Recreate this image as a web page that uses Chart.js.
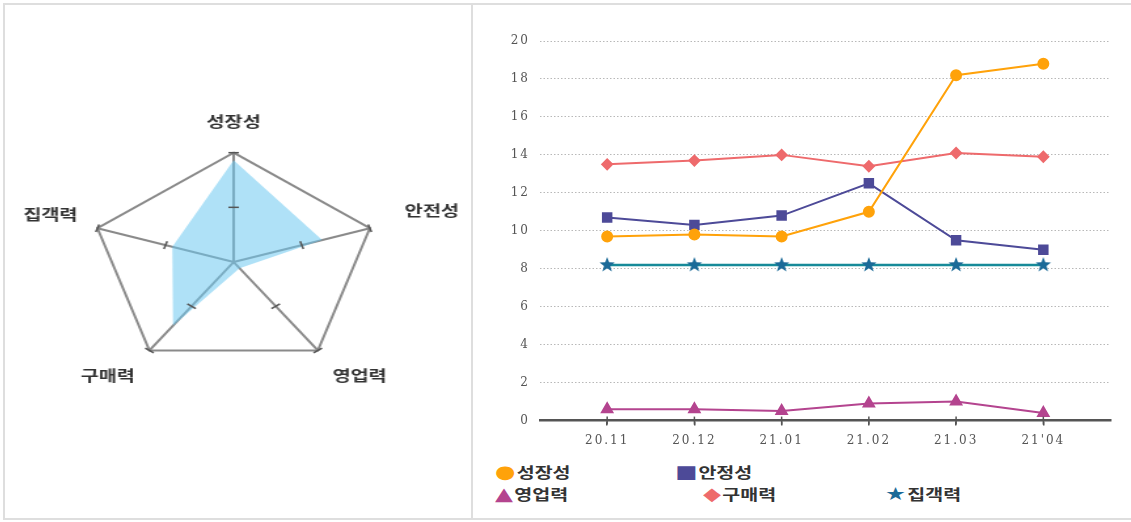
<!DOCTYPE html>
<html lang="ko">
<head>
<meta charset="utf-8">
<script src="https://cdn.jsdelivr.net/npm/chart.js@4.4.1/dist/chart.umd.min.js"></script>
<style>
body{margin:0;background:#fff;width:1131px;height:522px;overflow:hidden;position:relative;font-family:"Noto Sans CJK KR",sans-serif}
.frame{position:absolute;left:3px;top:3px;width:1130px;height:517px;border:2px solid #dedede;border-right:none;box-sizing:border-box}
.divider{position:absolute;left:471px;top:3px;width:2px;height:517px;background:#dedede}
#radarBox{position:absolute;left:7px;top:8px;width:351px;height:505px;transform:scaleX(1.31);transform-origin:0 0}
#lineBox{position:absolute;left:476px;top:0;width:644px;height:456px}
#legend .item{position:absolute;font-weight:bold;font-size:15px;color:#333;white-space:nowrap;line-height:20px;transform:scaleX(1.3);transform-origin:0 50%}
#legend .sym{font-family:"DejaVu Sans";font-size:18px;margin-right:1px}
#legend .item:nth-child(1){left:495px;top:462px}
#legend .item:nth-child(2){left:675px;top:462px}
#legend .item:nth-child(3){left:495px;top:484px}
#legend .item:nth-child(4){left:703px;top:484px}
#legend .item:nth-child(5){left:885px;top:484px}
</style>
</head>
<body>
<div class="frame"></div>
<div class="divider"></div>
<div id="radarBox"><canvas id="radarChart"></canvas></div>
<div id="lineBox"><canvas id="lineChart"></canvas></div>
<div id="legend"></div>
<script>
// 레이더 (현재 수준, 0~1)
const radarLabels=["성장성","안전성","영업력","구매력","집객력"]
const radarValues=[0.93,0.65,0.07,0.72,0.45]

// 월별 지표
const months=["20.11","20.12","21.01","21.02","21.03","21'04"]
const growth=[9.7,9.8,9.7,11.0,18.2,18.8]
const stability=[10.7,10.3,10.8,12.5,9.5,9.0]
const sales=[0.6,0.6,0.5,0.9,1.0,0.4]
const purchase=[13.5,13.7,14.0,13.4,14.1,13.9]
const traffic=[8.2,8.2,8.2,8.2,8.2,8.2]
const yTicks=[0,2,4,6,8,10,12,14,16,18,20]

/* RADAR */

// 축 위 눈금 표시
const spokeTicks={
id:"spokeTicks",
afterDraw(chart){
const scale=chart.scales.r
const c=chart.ctx
c.save()
c.strokeStyle="#555"
c.lineWidth=1.5
radarLabels.forEach((l,i)=>{
const a=scale.getIndexAngle(i)-Math.PI/2
const px=-Math.sin(a),py=Math.cos(a)
;[0.5,1].forEach(v=>{
const p=scale.getPointPositionForValue(i,v)
c.beginPath()
c.moveTo(p.x-px*4,p.y-py*4)
c.lineTo(p.x+px*4,p.y+py*4)
c.stroke()
})
})
c.restore()
}
}

new Chart(document.getElementById("radarChart"),{
type:"radar",
data:{
labels:radarLabels,
datasets:[{
data:radarValues,
backgroundColor:"rgba(110,200,240,0.55)",
borderWidth:0,
pointRadius:0,
fill:true
}]
},
options:{
responsive:true,
maintainAspectRatio:false,
animation:false,
layout:{padding:{left:8,right:0,top:4,bottom:0}},
plugins:{legend:{display:false},tooltip:{enabled:false}},
scales:{
r:{
min:0,
max:1,
ticks:{display:false,stepSize:0.5},
grid:{
circular:false,
lineWidth:2,
color:ctx=>ctx.tick&&ctx.tick.value===1?"#8a8a8a":"rgba(0,0,0,0)"
},
angleLines:{color:"#8a8a8a",lineWidth:2},
pointLabels:{
padding:ctx=>[22,28,19,19,16][ctx.index],
color:"#333",
font:{family:"Noto Sans CJK KR",size:15,weight:"bold"}
}
}
}
},
plugins:[spokeTicks]
})

/* LINE CHART */

// 별 모양 마커
function starMarker(color,r){
const cv=document.createElement("canvas")
cv.width=r*2+2
cv.height=r*2+2
const c=cv.getContext("2d")
c.translate(r+1,r+1)
c.beginPath()
for(let k=0;k<10;k++){
const rad=k%2===0?r:r*0.42
const ang=-Math.PI/2+k*Math.PI/5
c.lineTo(Math.cos(ang)*rad,Math.sin(ang)*rad)
}
c.closePath()
c.fillStyle=color
c.fill()
return cv
}

// 숫자 라벨 자간
const wideText={
id:"wideText",
beforeUpdate(chart){chart.ctx.letterSpacing="2px"},
beforeDraw(chart){chart.ctx.letterSpacing="2px"}
}

// x축 위아래로 걸친 눈금
const crossTicks={
id:"crossTicks",
afterDraw(chart){
const x=chart.scales.x
const c=chart.ctx
c.save()
c.strokeStyle="#555"
c.lineWidth=1.5
x.ticks.forEach(t=>{
const px=x.getPixelForValue(t.value)
c.beginPath()
c.moveTo(px,x.top-4)
c.lineTo(px,x.top+4)
c.stroke()
})
c.restore()
}
}

const toPoints=arr=>arr.map((v,i)=>({x:i,y:v}))

const lineChart=new Chart(document.getElementById("lineChart"),{
type:"line",
data:{
datasets:[
{label:"성장성",data:toPoints(growth),borderColor:"#ffa20a",backgroundColor:"#ffa20a",pointStyle:"circle",pointRadius:5,borderWidth:2,sym:"●"},
{label:"안정성",data:toPoints(stability),borderColor:"#4d4a98",backgroundColor:"#4d4a98",pointStyle:"rect",pointRadius:6,borderWidth:2,sym:"■"},
{label:"영업력",data:toPoints(sales),borderColor:"#b4448f",backgroundColor:"#b4448f",pointStyle:"triangle",pointRadius:6,borderWidth:2,sym:"▲"},
{label:"구매력",data:toPoints(purchase),borderColor:"#ee6a6c",backgroundColor:"#ee6a6c",pointStyle:"rectRot",pointRadius:5,borderWidth:2,sym:"◆"},
{label:"집객력",data:toPoints(traffic),borderColor:"#178a99",backgroundColor:"#1b6a98",pointStyle:starMarker("#1b6a98",8),pointRadius:7,borderWidth:2.5,sym:"★"}
]
},
options:{
responsive:true,
maintainAspectRatio:false,
animation:false,
layout:{padding:{top:41,right:0,bottom:0,left:0}},
plugins:{legend:{display:false},tooltip:{enabled:false}},
scales:{
x:{
type:"linear",
min:-0.77,
max:5.77,
afterBuildTicks:s=>{s.ticks=s.ticks.filter(t=>Number.isInteger(t.value))},
ticks:{
stepSize:1,
padding:8,
color:"#555",
font:{family:"DejaVu Serif",size:12},
callback:v=>months[v]
},
grid:{drawOnChartArea:false,tickLength:5,color:"#555",lineWidth:1.5},
border:{display:true,color:"#555",width:2.5}
},
y:{
min:0,
max:20,
afterBuildTicks:s=>{s.ticks=yTicks.map(v=>({value:v}))},
afterFit:s=>{s.width=64},
ticks:{
padding:10,
color:"#555",
font:{family:"DejaVu Serif",size:12}
},
grid:{color:"#b8b8b8",lineWidth:1,drawTicks:false},
border:{display:false,dash:[1.5,2]}
}
}
},
plugins:[wideText,crossTicks]
})

// 범례
const legend=document.getElementById("legend")
lineChart.data.datasets.forEach(ds=>{
const item=document.createElement("div")
item.className="item"
const sym=document.createElement("span")
sym.className="sym"
sym.style.color=ds.backgroundColor
sym.textContent=ds.sym
item.appendChild(sym)
item.appendChild(document.createTextNode(ds.label))
legend.appendChild(item)
})
</script>
</body>
</html>
